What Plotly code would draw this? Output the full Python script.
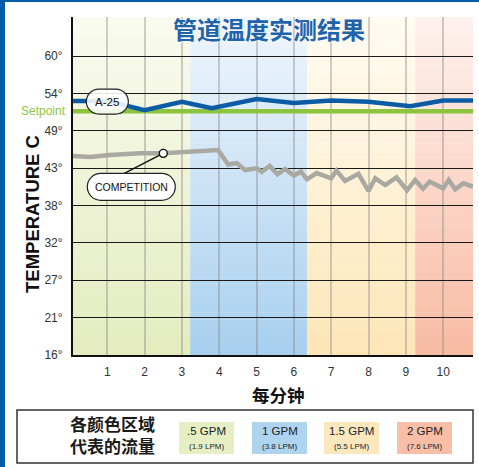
import plotly.graph_objects as go

# ---------------- data ----------------
time_a25 = [0.08, 1, 2, 3, 3.8, 5, 6, 7, 8, 9.12, 10, 10.8]
temp_a25 = [53.3, 53.3, 51.95, 53.2, 52.25, 53.6, 53.0, 53.4, 53.2, 52.55, 53.4, 53.4]

time_comp = [0.08, 0.54, 1.07, 1.53, 1.88, 2.5, 3.08, 3.97, 4.24, 4.47, 4.69, 5.0, 5.14,
             5.35, 5.56, 5.76, 6.0, 6.19, 6.35, 6.61, 7.0, 7.14, 7.37, 7.73, 8.0, 8.18,
             8.45, 8.75, 9.03, 9.25, 9.46, 9.64, 10.0, 10.15, 10.32, 10.54, 10.8]
temp_comp = [45.13, 44.98, 45.28, 45.43, 45.53, 45.53, 45.77, 46.02, 43.87, 44.09, 43.05,
             43.3, 42.8, 43.65, 42.41, 43.2, 42.23, 42.8, 41.67, 42.6, 41.82, 42.98, 41.42,
             42.5, 39.93, 41.82, 40.82, 41.97, 40.03, 41.56, 40.26, 41.31, 40.33, 41.56,
             40.18, 41.07, 40.57]
comp_marker_index = 5

setpoint_c = 51.8

x_ticks = [1, 2, 3, 4, 5, 6, 7, 8, 9, 10]
y_ticks_f = [60, 70, 80, 90, 100, 110, 120, 130, 140]
y_tick_labels = ["16°", "21°", "27°", "32°", "38°", "43°", "49°", "54°", "60°"]

band_edges = [0.08, 3.22, 6.35, 9.25, 10.8]
band_top_colors = ["#f9fbef", "#f0f6fd", "#fffcf3", "#fef2ee"]
band_bottom_colors = ["#e3ecbe", "#a7cfee", "#fde6b7", "#f8baa2"]
legend_colors = ["#e6efc3", "#afd4f0", "#fde8bd", "#f9bea6"]
legend_line1 = [".5 GPM", "1 GPM", "1.5 GPM", "2 GPM"]
legend_line2 = ["(1.9 LPM)", "(3.8 LPM)", "(5.5 LPM)", "(7.6 LPM)"]

title_text = "管道温度实测结果"
x_title = "每分钟"
y_title = "TEMPERATURE C"
legend_title = ["各颜色区域", "代表的流量"]

# ---------------- layout geometry ----------------
W, H = 479, 467
ML, MR, MT, MB = 73, 6, 17, 112
PW, PH = W - ML - MR, H - MT - MB
x_range = [band_edges[0], band_edges[-1]]
y_ticks = [(f - 32) * 5 / 9 for f in y_ticks_f]
y_range = [y_ticks[0], 65.8]


def px2x(p):
    return (p - ML) / PW


def px2y(p):
    return (H - MB - p) / PH


SANS = "Liberation Sans, Arial, sans-serif"
CJK = "Noto Sans CJK SC, sans-serif"


def hex2rgb(h):
    h = h.lstrip("#")
    return [int(h[i:i + 2], 16) for i in (0, 2, 4)]


def mix(c1, c2, t):
    a, b = hex2rgb(c1), hex2rgb(c2)
    return "rgb(%d,%d,%d)" % tuple(round(a[i] + (b[i] - a[i]) * t) for i in range(3))


def pill(cx, cy, w, h):
    a = w - h
    c = 0.5523 * h
    pts = [
        f"M{cx - a},{cy + h}", f"L{cx + a},{cy + h}",
        f"C{cx + a + c},{cy + h} {cx + w},{cy + c} {cx + w},{cy}",
        f"C{cx + w},{cy - c} {cx + a + c},{cy - h} {cx + a},{cy - h}",
        f"L{cx - a},{cy - h}",
        f"C{cx - a - c},{cy - h} {cx - w},{cy - c} {cx - w},{cy}",
        f"C{cx - w},{cy + c} {cx - a - c},{cy + h} {cx - a},{cy + h}", "Z",
    ]
    return " ".join(pts)


def paper_text(xp, yp, text, font, **kw):
    d = dict(xref="paper", yref="paper", x=px2x(xp), y=px2y(yp), text=text, showarrow=False,
             xanchor="center", yanchor="middle", font=font, borderpad=0)
    d.update(kw)
    return d


shapes = []
# gradient bands (stripes), below gridlines
N = 48
for i in range(len(band_edges) - 1):
    for k in range(N):
        y0 = y_range[0] + (y_range[1] - y_range[0]) * k / N
        y1 = y_range[0] + (y_range[1] - y_range[0]) * (k + 1.05) / N
        s = 1 - (k + 0.5) / N
        shapes.append(dict(type="rect", xref="x", yref="y", layer="below",
                           x0=band_edges[i], x1=band_edges[i + 1], y0=y0, y1=min(y1, y_range[1]),
                           line=dict(width=0),
                           fillcolor=mix(band_top_colors[i], band_bottom_colors[i], s)))

# frame border (blue)
shapes.append(dict(type="rect", xref="paper", yref="paper", layer="above",
                   x0=px2x(0), x1=px2x(5), y0=px2y(H), y1=px2y(0),
                   line=dict(width=0), fillcolor="#005ca9"))
shapes.append(dict(type="rect", xref="paper", yref="paper", layer="above",
                   x0=px2x(0), x1=px2x(W), y0=px2y(2), y1=px2y(0),
                   line=dict(width=0), fillcolor="#005ca9"))

# legend box
shapes.append(dict(type="rect", xref="paper", yref="paper", layer="above",
                   x0=px2x(17), x1=px2x(473), y0=px2y(463), y1=px2y(410),
                   line=dict(width=1.5, color="#333333"), fillcolor="white"))
swatch_left = [179, 252, 324, 397]
sw_w = 55
annotations = []
for i, c in enumerate(legend_colors):
    shapes.append(dict(type="rect", xref="paper", yref="paper", layer="above",
                       x0=px2x(swatch_left[i]), x1=px2x(swatch_left[i] + sw_w),
                       y0=px2y(454), y1=px2y(422), line=dict(width=0), fillcolor=c))
    cxp = swatch_left[i] + sw_w / 2
    annotations.append(paper_text(cxp, 431.5, legend_line1[i],
                                  dict(family=SANS, size=11.5, color="#222")))
    annotations.append(paper_text(cxp, 446, legend_line2[i],
                                  dict(family=SANS, size=8, color="#222")))

annotations.append(paper_text(112, 435, "<br>".join(legend_title),
                              dict(family=CJK, size=17, color="#1a1a1a", weight="bold")))

# A-25 pill label
a_x, a_y = time_a25[1], temp_a25[1]
shapes.append(dict(type="path", xref="x", yref="y", xsizemode="pixel", ysizemode="pixel",
                   xanchor=a_x, yanchor=a_y, layer="above",
                   path=pill(0, -0.5, 21, 12.5),
                   line=dict(color="#222", width=1.2), fillcolor="rgba(255,255,255,0.88)"))
annotations.append(dict(x=a_x, y=a_y, text="A-25", showarrow=False, yshift=-0.5,
                        xanchor="center", yanchor="middle",
                        font=dict(family=SANS, size=11.5, color="#111")))

# COMPETITION callout
m_x, m_y = time_comp[comp_marker_index], temp_comp[comp_marker_index]
shapes.append(dict(type="line", xref="x", yref="y", xsizemode="pixel", ysizemode="pixel",
                   xanchor=m_x, yanchor=m_y, layer="above",
                   x0=-3.6, y0=-1.8, x1=-39, y1=-20, line=dict(color="#111", width=1.4)))
shapes.append(dict(type="path", xref="x", yref="y", xsizemode="pixel", ysizemode="pixel",
                   xanchor=m_x, yanchor=m_y, layer="above",
                   path=pill(-32, -33.5, 44, 13.5),
                   line=dict(color="#222", width=1.2), fillcolor="white"))
annotations.append(dict(x=m_x, y=m_y, text="COMPETITION", showarrow=False, xshift=-32, yshift=-33.5,
                        xanchor="center", yanchor="middle",
                        font=dict(family=SANS, size=10.5, color="#111")))

# Setpoint label
annotations.append(dict(xref="paper", yref="y", x=px2x(68), y=setpoint_c, xanchor="right",
                        yanchor="middle", text="Setpoint", showarrow=False,
                        font=dict(family=SANS, size=12, color="#8dc63f")))

# Title
annotations.append(paper_text(269, 28, title_text,
                              dict(family=CJK, size=24, color="#1f63ad", weight="bold",
                                   shadow="0px 0px 3px white")))
# axis titles
annotations.append(paper_text(32, 214, y_title,
                              dict(family=SANS, size=18.5, color="#111", weight="bold"),
                              textangle=-90))
annotations.append(paper_text(278, 394, x_title,
                              dict(family=CJK, size=17.5, color="#111", weight="bold")))

fig = go.Figure()
fig.add_trace(go.Scatter(x=[x_range[0], x_range[1]], y=[setpoint_c, setpoint_c], mode="lines",
                         line=dict(color="#8cc43f", width=4.5), hoverinfo="skip"))
fig.add_trace(go.Scatter(x=time_comp, y=temp_comp, mode="lines",
                         line=dict(color="#a9a9a2", width=4.5), hoverinfo="skip"))
fig.add_trace(go.Scatter(x=time_a25, y=temp_a25, mode="lines",
                         line=dict(color="#0b5ca5", width=4.5), hoverinfo="skip"))
fig.add_trace(go.Scatter(x=[m_x], y=[m_y], mode="markers",
                         marker=dict(size=8, color="white", line=dict(color="#111", width=1.4)),
                         hoverinfo="skip"))

fig.update_layout(
    width=W, height=H, margin=dict(l=ML, r=MR, t=MT, b=MB),
    paper_bgcolor="white", plot_bgcolor="white", showlegend=False,
    shapes=shapes, annotations=annotations,
    xaxis=dict(range=x_range, tickvals=x_ticks, ticktext=[str(v) for v in x_ticks],
               showgrid=True, gridcolor="rgba(130,130,130,0.38)", gridwidth=2,
               showline=True, linecolor="#111", linewidth=2, zeroline=False,
               ticks="", ticklabelstandoff=5,
               tickfont=dict(family=SANS, size=12, color="#333")),
    yaxis=dict(range=y_range, tickvals=y_ticks, ticktext=y_tick_labels,
               showgrid=True, gridcolor="#1a1a1a", gridwidth=1.2,
               showline=True, linecolor="#111", linewidth=2, zeroline=False,
               ticks="", ticklabelstandoff=6,
               tickfont=dict(family=SANS, size=12, color="#333")),
)

fig.write_html("out.html", config={"displayModeBar": False},
               post_script="document.body.style.margin='0';document.body.style.padding='0';")
